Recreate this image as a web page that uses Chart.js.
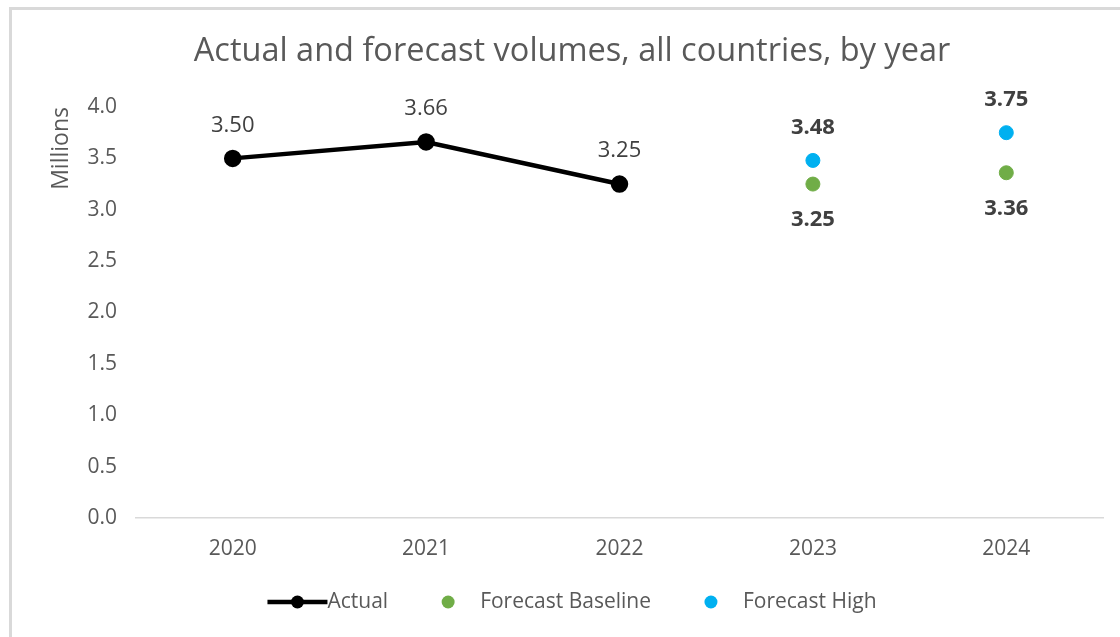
<!DOCTYPE html>
<html>
<head>
<meta charset="utf-8">
<script src="https://cdn.jsdelivr.net/npm/chart.js@4/dist/chart.umd.min.js"></script>
<style>
  html, body { margin: 0; padding: 0; background: #fff; }
  #wrap { position: relative; width: 1120px; height: 637px; overflow: hidden; }
  #frame { position: absolute; left: 9px; top: 7px; width: 1200px; height: 700px;
    border-left: 3px solid #d9d9d9; border-top: 3px solid #d9d9d9; }
  canvas { position: absolute; left: 0; top: 0; }
</style>
</head>
<body>
<div id="wrap">
  <div id="frame"></div>
  <canvas id="chart" width="1120" height="637"></canvas>
</div>
<script>
const years = ['2020', '2021', '2022', '2023', '2024']
const actual = [3.50, 3.66, 3.25, null, null]
const forecastBaseline = [null, null, null, 3.25, 3.36]
const forecastHigh = [null, null, null, 3.48, 3.75]
const yMin = 0
const yMax = 4
const yStep = 0.5
const chartTitle = 'Actual and forecast volumes, all countries, by year'

const FONT = '"Open Sans", "Noto Sans", sans-serif'
const GREY = '#595959'

// the frame of the original is offset, so title and legend center a bit right of middle
function frameCenter(chart) {
  return (chart.width + 24) / 2
}

const topTitle = {
  id: 'topTitle',
  afterDraw(chart) {
    const ctx = chart.ctx
    ctx.save()
    ctx.font = '32.5px ' + FONT
    ctx.fillStyle = GREY
    ctx.textAlign = 'center'
    ctx.textBaseline = 'middle'
    ctx.fillText(chartTitle, frameCenter(chart), 52)
    ctx.restore()
  }
}

// value labels above / below each point
const pointLabels = {
  id: 'pointLabels',
  afterDatasetsDraw(chart) {
    const ctx = chart.ctx
    chart.data.datasets.forEach((ds, i) => {
      const meta = chart.getDatasetMeta(i)
      meta.data.forEach((pt, j) => {
        const v = ds.data[j]
        if (v == null) return
        ctx.save()
        ctx.font = (ds.labelBold ? 'bold ' : '') + '22px ' + FONT
        ctx.fillStyle = '#404040'
        ctx.textAlign = 'center'
        ctx.textBaseline = 'middle'
        const dy = ds.labelPos === 'below' ? 36 : -33
        ctx.fillText(v.toFixed(2), pt.x, pt.y + dy)
        ctx.restore()
      })
    })
  }
}

// legend drawn by hand so the line series keeps its line sample
const bottomLegend = {
  id: 'bottomLegend',
  afterDraw(chart) {
    const ctx = chart.ctx
    ctx.save()
    ctx.font = '21px ' + FONT
    const items = chart.data.datasets.map(ds => {
      const isLine = ds.showLine !== false
      const sym = isLine ? 60 : 20
      const gap = isLine ? 0 : 22
      return { ds, isLine, sym, gap, w: sym + gap + ctx.measureText(ds.label).width }
    })
    const spacing = 50
    const total = items.reduce((t, it) => t + it.w, 0) + spacing * (items.length - 1)
    let x = frameCenter(chart) - total / 2
    const y = chart.height - 35
    for (const it of items) {
      if (it.isLine) {
        ctx.strokeStyle = it.ds.borderColor
        ctx.lineWidth = it.ds.borderWidth
        ctx.beginPath()
        ctx.moveTo(x, y)
        ctx.lineTo(x + it.sym, y)
        ctx.stroke()
      }
      ctx.fillStyle = it.ds.pointBackgroundColor
      ctx.beginPath()
      ctx.arc(x + it.sym / 2, y, 6.5, 0, Math.PI * 2)
      ctx.fill()
      ctx.fillStyle = GREY
      ctx.textAlign = 'left'
      ctx.textBaseline = 'middle'
      ctx.fillText(it.ds.label, x + it.sym + it.gap, y)
      x += it.w + spacing
    }
    ctx.restore()
  }
}

new Chart(document.getElementById('chart'), {
  type: 'line',
  data: {
    labels: years,
    datasets: [
      {
        label: 'Actual',
        data: actual,
        borderColor: '#000000',
        borderWidth: 4.5,
        pointBackgroundColor: '#000000',
        pointBorderColor: '#000000',
        pointRadius: 6.5,
        labelPos: 'above',
        labelBold: false
      },
      {
        label: 'Forecast Baseline',
        data: forecastBaseline,
        showLine: false,
        borderColor: '#70AD47',
        pointBackgroundColor: '#70AD47',
        pointBorderColor: '#70AD47',
        pointRadius: 7,
        labelPos: 'below',
        labelBold: true
      },
      {
        label: 'Forecast High',
        data: forecastHigh,
        showLine: false,
        borderColor: '#00B0F0',
        pointBackgroundColor: '#00B0F0',
        pointBorderColor: '#00B0F0',
        pointRadius: 7,
        labelPos: 'above',
        labelBold: true
      }
    ]
  },
  options: {
    responsive: false,
    animation: false,
    layout: { padding: { left: 24, right: 17, top: 107, bottom: 0 } },
    plugins: {
      legend: { display: false },
      tooltip: { enabled: false },
      title: { display: false }
    },
    scales: {
      x: {
        offset: true,
        grid: { display: false, drawTicks: false },
        border: { display: true, color: '#d9d9d9', width: 1.5 },
        ticks: { color: GREY, font: { family: FONT, size: 21 }, padding: 18 },
        afterFit(scale) { scale.height = 119 }
      },
      y: {
        min: yMin,
        max: yMax,
        grid: { display: false, drawTicks: false },
        border: { display: false },
        ticks: {
          stepSize: yStep,
          color: GREY,
          font: { family: FONT, size: 21 },
          padding: 19,
          callback: v => v.toFixed(1)
        },
        title: {
          display: true,
          text: 'Millions',
          align: 'end',
          color: GREY,
          font: { family: FONT, size: 23 },
          padding: { top: 24 }
        },
        afterFit(scale) { scale.width = 112 }
      }
    }
  },
  plugins: [topTitle, pointLabels, bottomLegend]
})
</script>
</body>
</html>
